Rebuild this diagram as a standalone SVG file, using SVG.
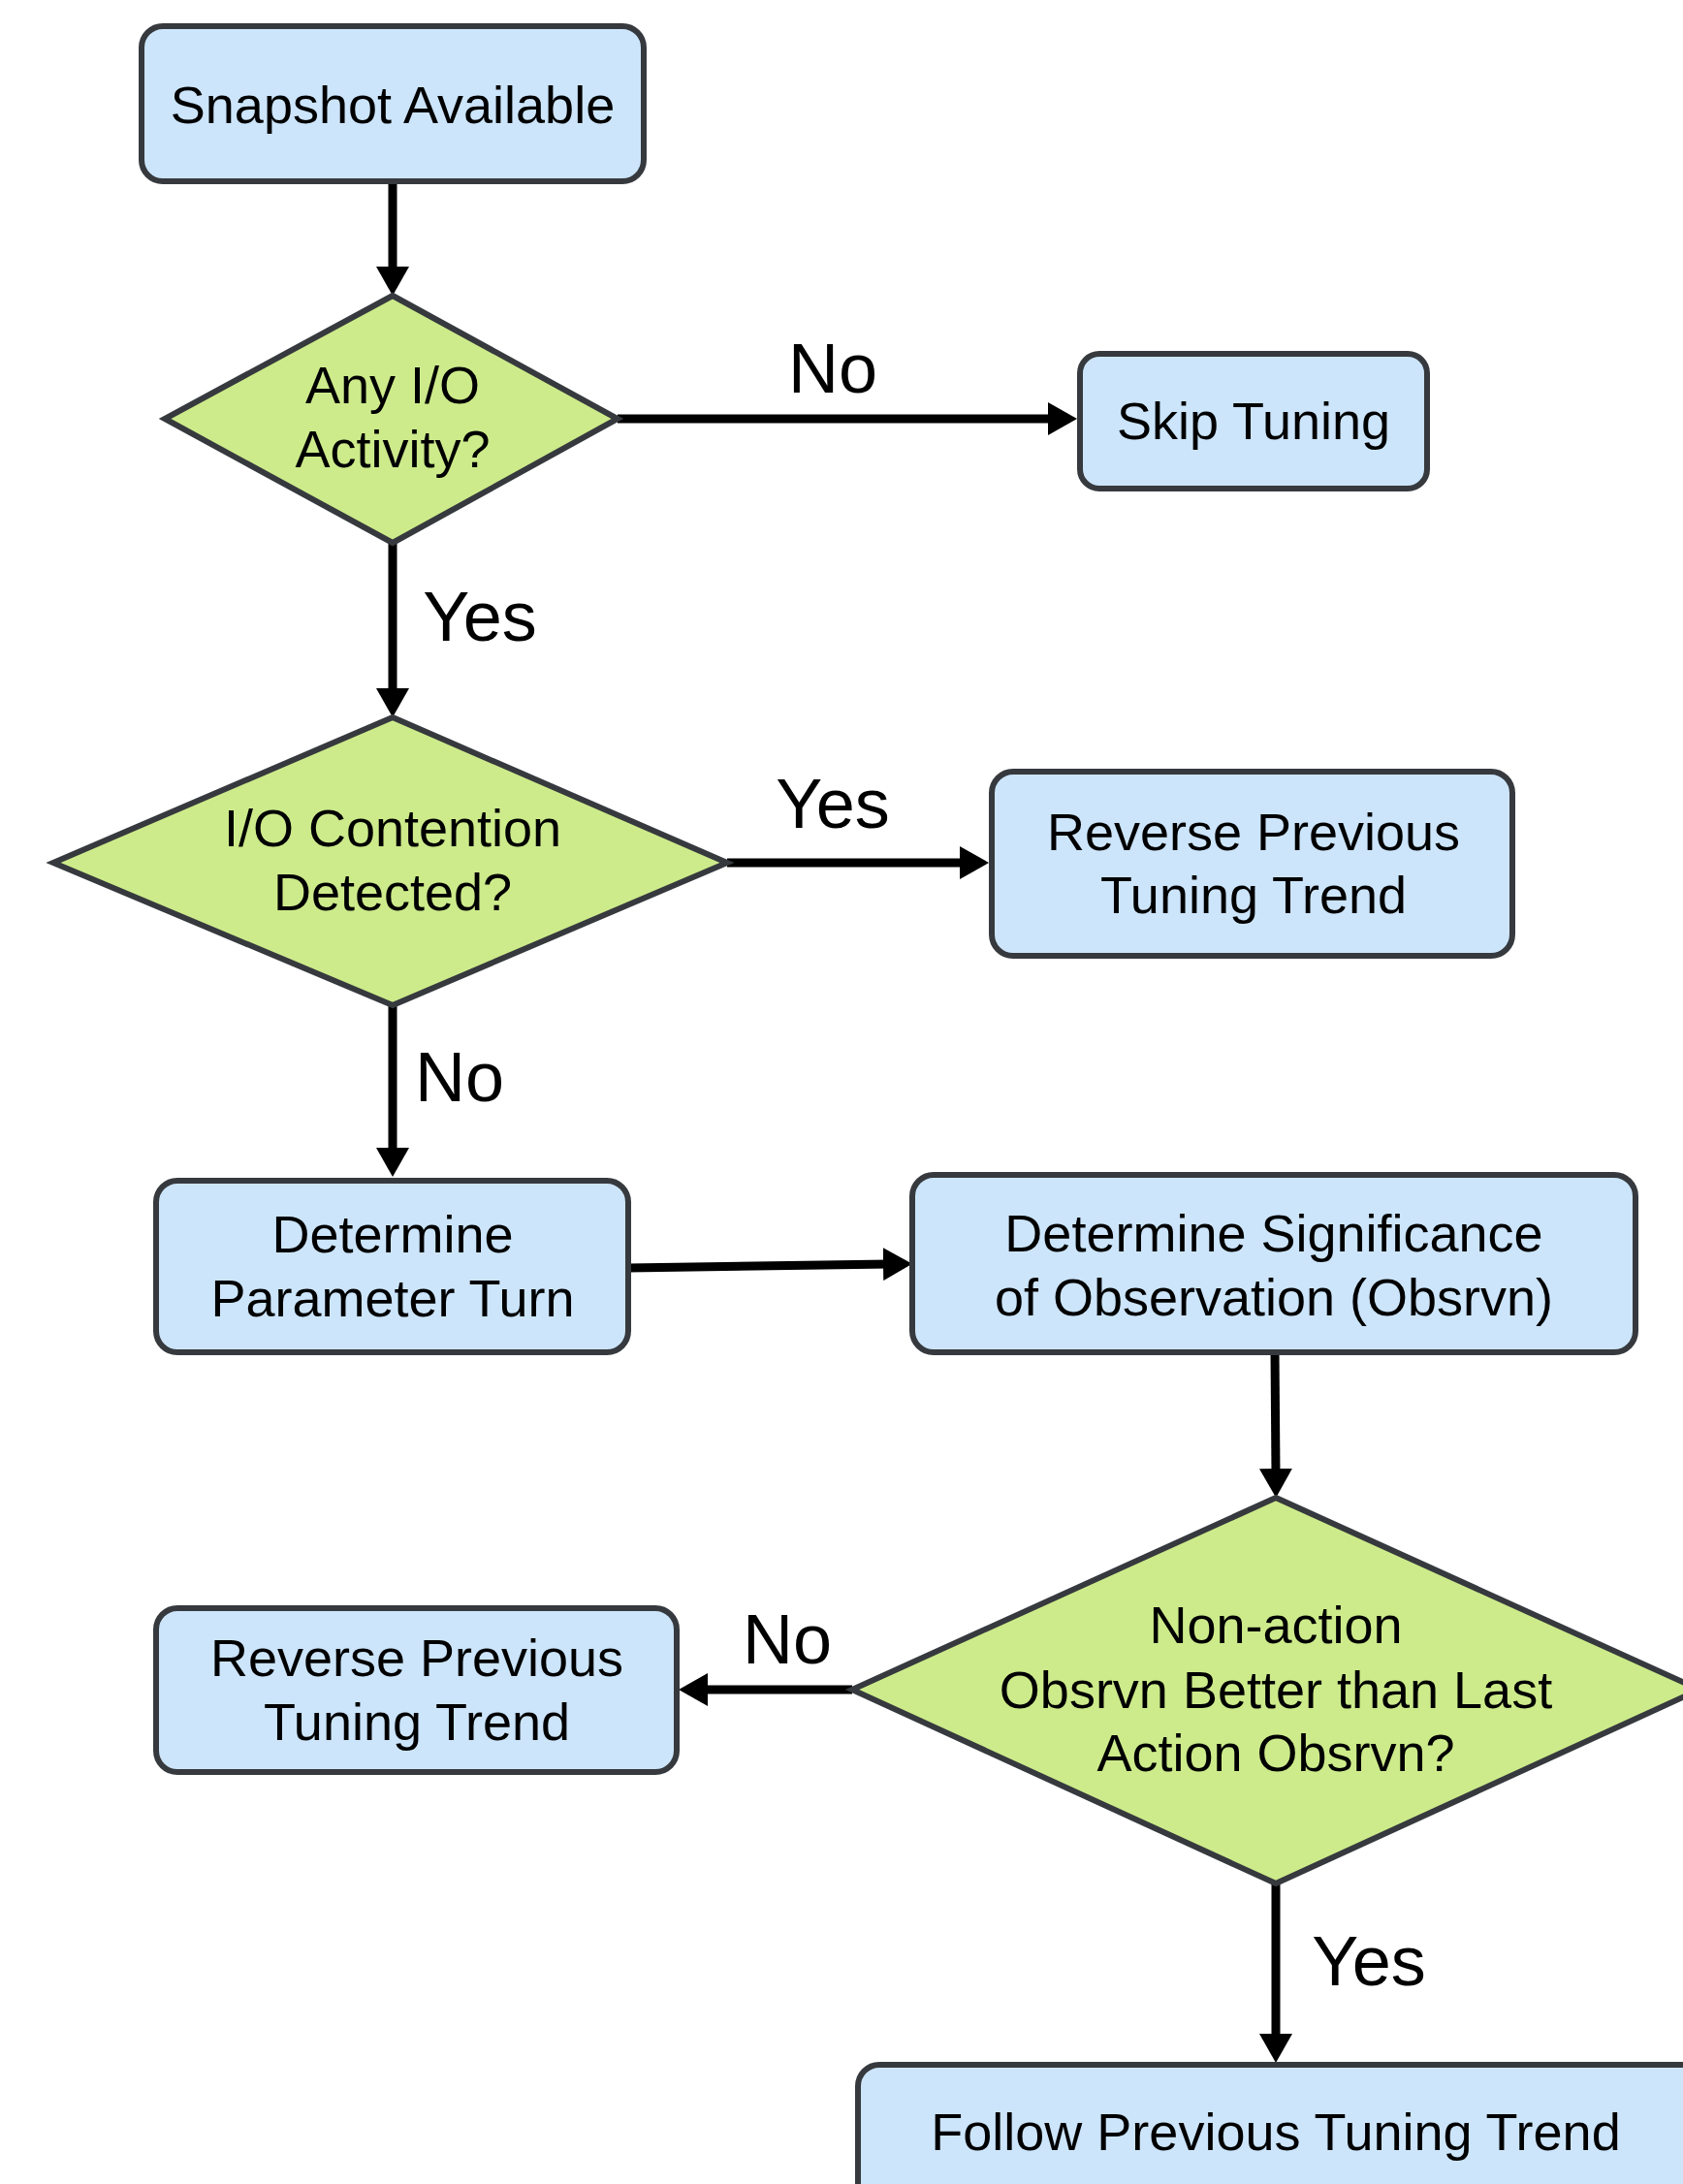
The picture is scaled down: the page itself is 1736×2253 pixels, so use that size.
<svg xmlns="http://www.w3.org/2000/svg" width="1736" height="2253" viewBox="0 0 1736 2253">
<style>
.box{fill:#cce5fb;stroke:#36393d;stroke-width:6}
.dia{fill:#cdeb8b;stroke:#36393d;stroke-width:6}
.t{font-family:"Liberation Sans",Arial,sans-serif;font-size:54px;fill:#000;text-anchor:middle}
.lbl{font-family:"Liberation Sans",Arial,sans-serif;font-size:72px;fill:#000;text-anchor:middle}
.edge{stroke:#000;stroke-width:9;fill:none;marker-end:url(#ah)}
</style>
<defs>
<marker id="ah" markerUnits="userSpaceOnUse" viewBox="0 0 30 34" markerWidth="30" markerHeight="34" refX="6" refY="17" orient="auto">
<path d="M0,0 L30,17 L0,34 z" fill="#000"/>
</marker>
</defs>
<rect width="1736" height="2253" fill="#fff"/>
<g id="connectors">
<path class="edge" d="M405,187 L405,281"/>
<path class="edge" d="M637,432 L1087,432"/>
<path class="edge" d="M405,560 L405,716"/>
<path class="edge" d="M750,890 L996,890"/>
<path class="edge" d="M405,1037 L405,1190"/>
<path class="edge" d="M648,1308 L917,1304"/>
<path class="edge" d="M1315,1395 L1316,1521"/>
<path class="edge" d="M879,1743 L724,1743"/>
<path class="edge" d="M1316,1943 L1316,2104"/>
<text class="lbl" x="859" y="405">No</text>
<text class="lbl" x="495" y="661">Yes</text>
<text class="lbl" x="859" y="854">Yes</text>
<text class="lbl" x="474" y="1136">No</text>
<text class="lbl" x="812" y="1716">No</text>
<text class="lbl" x="1412" y="2048">Yes</text>
</g>
<g id="snapshot">
<rect class="box" x="146" y="27" width="518" height="160" rx="22"/>
<text class="t" x="405" y="127">Snapshot Available</text>
</g>
<g id="any-io">
<polygon class="dia" points="405,305 637,432 405,560 170,432"/>
<text class="t" x="405" y="416">Any I/O</text>
<text class="t" x="405" y="482">Activity?</text>
</g>
<g id="skip">
<rect class="box" x="1114" y="365" width="358" height="139" rx="20"/>
<text class="t" x="1293" y="453">Skip Tuning</text>
</g>
<g id="contention">
<polygon class="dia" points="405,740 750,890 405,1037 55,890"/>
<text class="t" x="405" y="873">I/O Contention</text>
<text class="t" x="405" y="939">Detected?</text>
</g>
<g id="reverse1">
<rect class="box" x="1023" y="796" width="537" height="190" rx="22"/>
<text class="t" x="1293" y="877">Reverse Previous</text>
<text class="t" x="1293" y="942">Tuning Trend</text>
</g>
<g id="param">
<rect class="box" x="161" y="1218" width="487" height="177" rx="22"/>
<text class="t" x="405" y="1292">Determine</text>
<text class="t" x="405" y="1358">Parameter Turn</text>
</g>
<g id="significance">
<rect class="box" x="941" y="1212" width="746" height="183" rx="22"/>
<text class="t" x="1314" y="1291">Determine Significance</text>
<text class="t" x="1314" y="1357">of Observation (Obsrvn)</text>
</g>
<g id="nonaction">
<polygon class="dia" points="1316,1545 1753,1743 1316,1943 879,1743"/>
<text class="t" x="1316" y="1695">Non-action</text>
<text class="t" x="1316" y="1762">Obsrvn Better than Last</text>
<text class="t" x="1316" y="1827">Action Obsrvn?</text>
</g>
<g id="reverse2">
<rect class="box" x="161" y="1659" width="537" height="169" rx="22"/>
<text class="t" x="430" y="1729">Reverse Previous</text>
<text class="t" x="430" y="1795">Tuning Trend</text>
</g>
<g id="follow">
<rect class="box" x="885" y="2130" width="880" height="160" rx="22"/>
<text class="t" x="1316" y="2218">Follow Previous Tuning Trend</text>
</g>
</svg>
